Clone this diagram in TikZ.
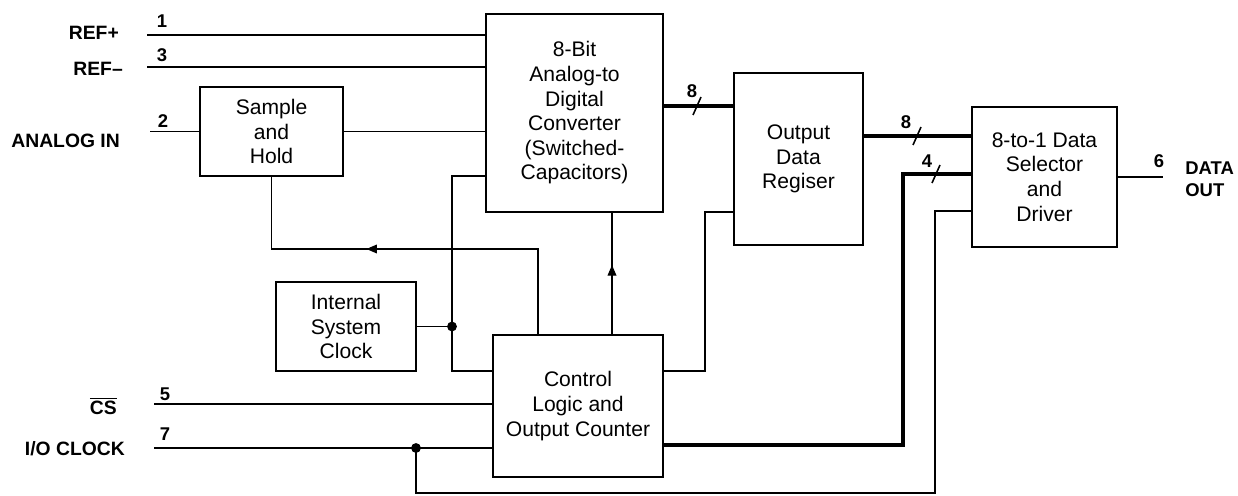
\documentclass[tikz,border=0pt]{standalone}
\usepackage{fontspec}
\setmainfont{Liberation Sans}
\usetikzlibrary{arrows.meta,decorations.markings}

\tikzset{
  blk/.style={draw, line width=1.4pt, align=center, inner sep=0pt,
    font=\fontsize{12}{14}\selectfont},
  pinlbl/.style={anchor=east, font=\fontsize{11}{13}\selectfont\bfseries},
  pinnum/.style={font=\fontsize{10.5}{12}\selectfont\bfseries},
  wire/.style={line width=0.6pt},
  bus/.style={line width=2.6pt},
  midarrow/.style={postaction={decorate}, decoration={markings,
    mark=at position #1 with {\arrow{Triangle[length=6pt,width=5pt]}}}}
}

\begin{document}
\begin{tikzpicture}[x=0.02cm, y=-0.02cm]
  \useasboundingbox (0,0) rectangle (1238,496);
  % Blocks.
  \node[blk, minimum width=2.86cm, minimum height=1.78cm] (sh) at (271.5,131.5) {Sample\\and\\Hold};
  \node[blk, minimum width=3.54cm, minimum height=3.96cm] (adc) at (574.5,113) {8-Bit\\Analog-to\\Digital\\Converter\\(Switched-\\Capacitors)};
  \node[blk, minimum width=2.8cm, minimum height=1.78cm] (clk) at (346,326.5) {Internal\\System\\Clock};
  \node[blk, minimum width=3.4cm, minimum height=2.84cm] (ctl) at (578,406) {Control\\Logic and\\Output Counter};
  \node[blk, minimum width=2.58cm, minimum height=3.44cm] (odr) at (798.5,159) {Output\\Data\\Regiser};
  \node[blk, minimum width=2.9cm, minimum height=2.8cm] (sel) at (1044.5,177) {8-to-1 Data\\Selector\\and\\Driver};

  % Pin names and numbers.
  \node[pinlbl] (refp) at (125,33) {REF+};
  \node[pinlbl] (refm) at (129,69) {REF–};
  \node[pinlbl] (ain) at (126,141) {ANALOG IN};
  \node[pinlbl] (cs) at (123,406) {$\overline{\mbox{\bfseries CS}}$};
  \node[pinlbl] (ioclk) at (131,449) {I/O CLOCK};
  \node[anchor=west, align=left, inner sep=0pt, font=\fontsize{10.5}{12.5}\selectfont\bfseries] (dout) at (1185,179) {DATA\\OUT};
  \node[pinnum] (n1) at (162,21) {1};
  \node[pinnum] (n3) at (162,55) {3};
  \node[pinnum] (n2) at (163,121) {2};
  \node[pinnum] (n5) at (165,394) {5};
  \node[pinnum] (n7) at (165,434) {7};
  \node[pinnum] (n6) at (1159,161) {6};

  % Free ends and corners.
  \coordinate (refp-in) at (147,35);
  \coordinate (refm-in) at (147,67);
  \coordinate (ain-in) at (150,131.5);
  \coordinate (cs-in) at (154,404);
  \coordinate (io-in) at (154,448);
  \coordinate (dout-end) at (1163,177);
  \coordinate (fb) at (538,249);
  \coordinate (up) at (612,272);
  \coordinate (top) at (452,176);
  \coordinate (jclk) at (452,326.5);
  \coordinate (low) at (452,371);
  \coordinate (rg) at (705,212);
  \coordinate (b1) at (697,106);
  \coordinate (b2) at (917,136);
  \coordinate (b3) at (936,174);
  \coordinate (b3c) at (903,445);
  \coordinate (sl) at (935,211);
  \coordinate (bot) at (935,493);
  \coordinate (jio) at (416,448);

  % Thin signal lines.
  \draw[wire] (refp-in) -- (refp-in -| adc.west);
  \draw[wire] (refm-in) -- (refm-in -| adc.west);
  \draw[wire] (ain-in) -- (sh.west);
  \draw[wire] (sh.east) -- (sh.east -| adc.west);
  \draw[wire] (cs-in) -- (cs-in -| ctl.west);
  \draw[wire] (io-in) -- (io-in -| ctl.west);
  \draw[wire] (sel.east) -- (dout-end);
  \draw[wire, midarrow=0.606] (ctl.north -| fb) -- (fb) -- (fb -| sh.south) -- (sh.south);
  \draw[wire, midarrow=0.57] (ctl.north -| up) -- (adc.south -| up);
  \draw[wire] (top -| adc.west) -- (top) -- (low) -- (low -| ctl.west);
  \draw[wire] (clk.east) -- (jclk);
  \draw[wire] (ctl.east |- low) -- (rg |- low) -- (rg) -- (rg -| odr.west);
  \draw[wire] (sl -| sel.west) -- (sl) -- (bot) -- (bot -| jio) -- (jio);
  \fill (jclk) circle (2.8pt);
  \fill (jio) circle (2.8pt);

  % Buses with width marks.
  \draw[bus] (b1 -| adc.east) -- (b1 -| odr.west);
  \draw[bus] (b2 -| odr.east) -- (b2 -| sel.west);
  \draw[bus] (ctl.east |- b3c) -- (b3c) -- (b3c |- b3) -- (b3 -| sel.west);
  \foreach \b in {b1,b2,b3}
    \draw[line width=0.9pt] (\b) ++(-4,9) -- ++(8,-18);
  \node[pinnum] (w1) at (692,91) {8};
  \node[pinnum] (w2) at (906,122) {8};
  \node[pinnum] (w3) at (927,161) {4};
\end{tikzpicture}
\end{document}
